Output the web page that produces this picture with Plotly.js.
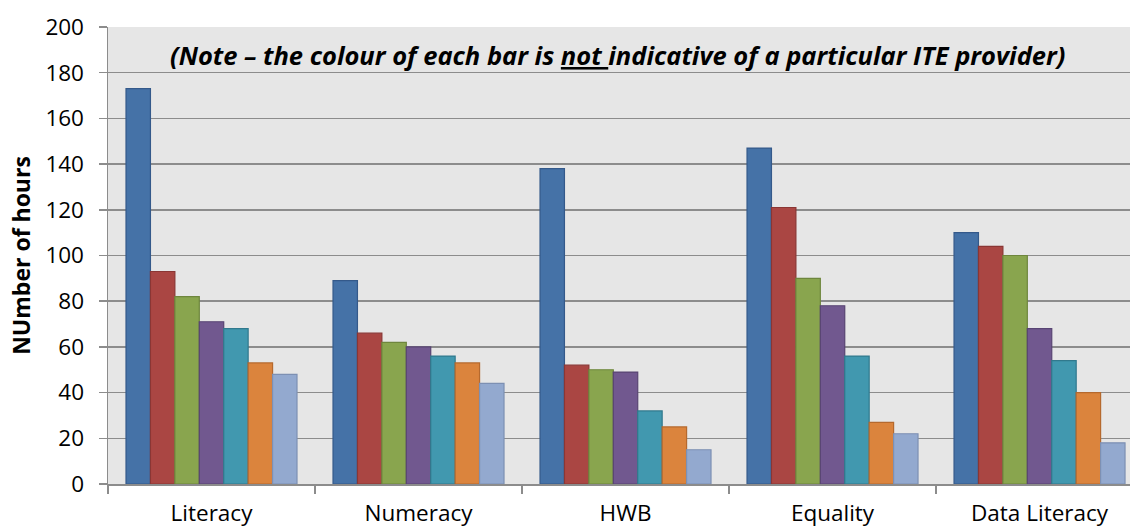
<!DOCTYPE html>
<html>
<head>
<meta charset="utf-8">
<script src="https://cdn.plot.ly/plotly-3.0.1.min.js"></script>
<style>html,body{margin:0;padding:0;background:#fff;}#chart{width:1130px;height:530px;}</style>
</head>
<body>
<div id="chart"></div>
<script>
const categories = ["Literacy", "Numeracy", "HWB", "Equality", "Data Literacy"];
const provider1 = [173, 89, 138, 147, 110];
const provider2 = [93, 66, 52, 121, 104];
const provider3 = [82, 62, 50, 90, 100];
const provider4 = [71, 60, 49, 78, 68];
const provider5 = [68, 56, 32, 56, 54];
const provider6 = [53, 53, 25, 27, 40];
const provider7 = [48, 44, 15, 22, 18];
const seriesNames = ["Provider 1", "Provider 2", "Provider 3", "Provider 4", "Provider 5", "Provider 6", "Provider 7"];
const yTicks = [0, 20, 40, 60, 80, 100, 120, 140, 160, 180, 200];
const noteText = "(Note \u2013 the colour of each bar is <u>not </u>indicative of a particular ITE provider)";
const yTitle = "NUmber of hours";

const fills = ["#4572A7", "#AA4643", "#89A54E", "#71588F", "#4198AF", "#DB843D", "#93A9CF"];
const borders = ["#34598A", "#8A3634", "#6E863D", "#584473", "#31798D", "#B5692E", "#7D90B3"];
const allSeries = [provider1, provider2, provider3, provider4, provider5, provider6, provider7];

const traces = allSeries.map((vals, i) => ({
  type: "bar",
  name: seriesNames[i],
  x: categories,
  y: vals,
  marker: { color: fills[i], line: { color: borders[i], width: 1.2 } },
  hoverinfo: "x+y"
}));

const FONT = "'Open Sans', sans-serif";
const layout = {
  width: 1130,
  height: 530,
  margin: { l: 108, r: 0, t: 27, b: 46, pad: 0 },
  paper_bgcolor: "#ffffff",
  plot_bgcolor: "#E6E6E6",
  barmode: "group",
  bargap: 0.174,
  bargroupgap: 0,
  showlegend: false,
  font: { family: FONT, color: "#000000" },
  xaxis: {
    type: "category",
    range: [-0.5, 4.437],
    showline: true,
    linecolor: "#8C8C8C",
    linewidth: 1.5,
    ticks: "outside",
    tickson: "boundaries",
    ticklen: 8,
    tickcolor: "#8C8C8C",
    tickwidth: 1.5,
    showgrid: false,
    tickfont: { family: FONT, size: 22.5, color: "#000000" },
    ticklabelstandoff: 8,
    fixedrange: true
  },
  yaxis: {
    range: [0, 200],
    tickvals: yTicks,
    ticktext: yTicks.map(String),
    showline: true,
    linecolor: "#8C8C8C",
    linewidth: 1.5,
    ticks: "outside",
    ticklen: 8,
    tickcolor: "#8C8C8C",
    tickwidth: 1.5,
    showgrid: true,
    gridcolor: "#8C8C8C",
    gridwidth: 1.5,
    zeroline: false,
    tickfont: { family: FONT, size: 22.5, color: "#000000" },
    ticklabelstandoff: 10,
    title: { text: "<b>" + yTitle + "</b>", font: { family: FONT, size: 23, color: "#000000" }, standoff: 8 },
    fixedrange: true
  },
  annotations: [{
    xref: "paper", yref: "y",
    x: (617 - 108) / 1022, y: 187.75,
    xanchor: "center", yanchor: "middle",
    text: "<b><i>" + noteText + "</i></b>",
    showarrow: false,
    font: { family: FONT, size: 25.5, color: "#000000" }
  }]
};

Plotly.newPlot("chart", traces, layout, { displayModeBar: false, staticPlot: true });
</script>
</body>
</html>
